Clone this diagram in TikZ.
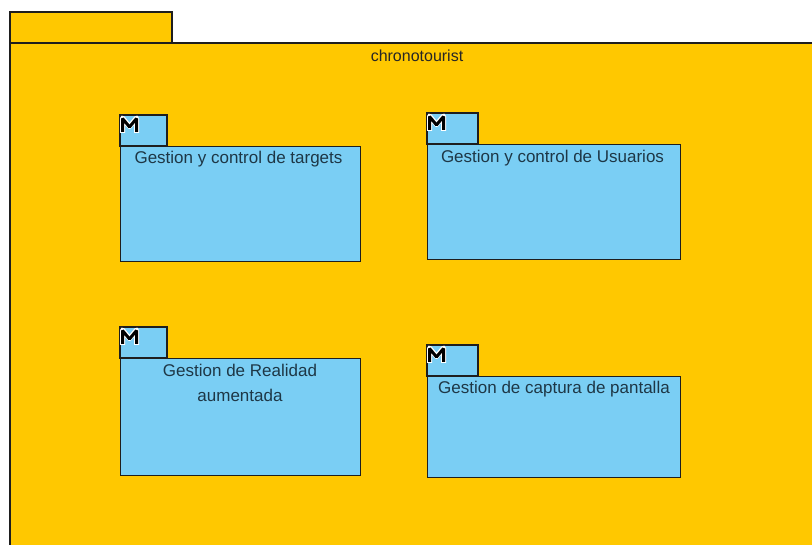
\documentclass[tikz,border=0pt]{standalone}
\usepackage{fontspec}
\setmainfont{Liberation Sans}
\definecolor{pkgyellow}{RGB}{255,200,0}
\definecolor{pkgblue}{RGB}{122,206,244}
\definecolor{pkgline}{RGB}{30,30,30}
\definecolor{labeltext}{RGB}{30,55,70}
\begin{document}
\begin{tikzpicture}[x=1pt,y=-1pt,
  outerbox/.style={fill=pkgyellow,draw=pkgline,line width=1.3pt},
  modbox/.style={fill=pkgblue,draw=pkgline,line width=1.2pt},
  modlabel/.style={text=labeltext,font=\fontsize{17}{25}\selectfont,align=center,inner sep=0pt},
  mwhite/.style={draw=white,line width=5pt,line join=round,line cap=butt},
  mblack/.style={draw=black,line width=3pt,line join=bevel,line cap=butt}]
\useasboundingbox (0,0) rectangle (812,545);
\clip (0,0) rectangle (812,545);
% outer package
\draw[outerbox] (10,12) rectangle (172,43);
\draw[outerbox] (10,43) rectangle (830,560);
\node[font=\fontsize{16}{18}\selectfont,text=black!85,inner sep=0pt] (title) at (417,56) {chronotourist};
% module 1
\draw[modbox] (120,115) rectangle (167,146);
\node[modbox,minimum width=240pt,minimum height=115pt,anchor=north west,inner sep=0pt] (m1) at (120,146) {};
\node[modlabel] (l1) at (238.5,159) {Gestion y control de targets};
% module 2
\draw[modbox] (427,113) rectangle (478,144);
\node[modbox,minimum width=253pt,minimum height=115pt,anchor=north west,inner sep=0pt] (m2) at (427,144) {};
\node[modlabel] (l2) at (552.5,158) {Gestion y control de Usuarios};
% module 3
\draw[modbox] (120,327) rectangle (167,358);
\node[modbox,minimum width=240pt,minimum height=117pt,anchor=north west,inner sep=0pt] (m3) at (120,358) {};
\node[modlabel,anchor=north] (l3) at (240,364) {Gestion de Realidad\\aumentada};
% module 4
\draw[modbox] (427,345) rectangle (478,376);
\node[modbox,minimum width=253pt,minimum height=101pt,anchor=north west,inner sep=0pt] (m4) at (427,376) {};
\node[modlabel] (l4) at (554,389) {Gestion de captura de pantalla};
% M icons
\foreach \x/\y in {120/115, 427/113, 120/327, 427/345}{
  \draw[mwhite] (\x+2.5,\y+18) -- (\x+2.5,\y+3) -- (\x+9.5,\y+11.5) -- (\x+16.5,\y+3) -- (\x+16.5,\y+18);
  \draw[mblack] (\x+2.5,\y+17) -- (\x+2.5,\y+3.5) -- (\x+9.5,\y+12) -- (\x+16.5,\y+3.5) -- (\x+16.5,\y+17);
}
\end{tikzpicture}
\end{document}
